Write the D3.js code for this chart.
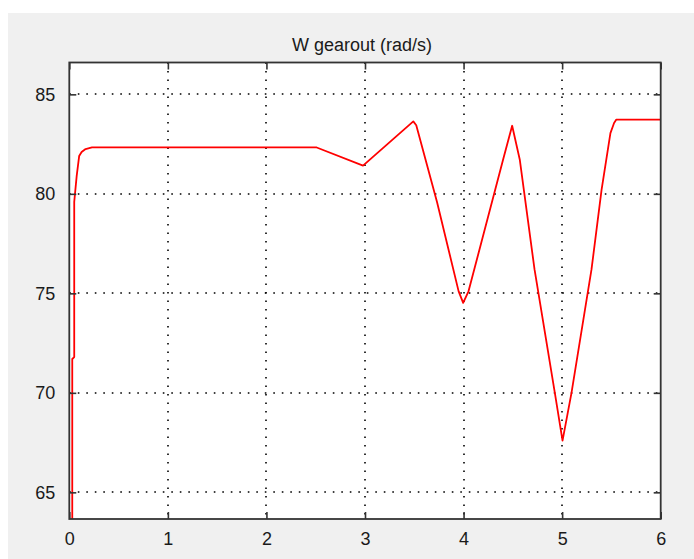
<!DOCTYPE html>
<html>
<head>
<meta charset="utf-8">
<script src="https://cdn.jsdelivr.net/npm/d3@7/dist/d3.min.js"></script>
<style>
  html, body { margin: 0; padding: 0; background: #ffffff; }
  svg { display: block; }
  text { font-family: "Liberation Sans", Arial, sans-serif; fill: #1a1a1a; }
</style>
</head>
<body>
<script>
// ---- data ----
const titleText = "W gearout (rad/s)";
const timeValues = [0.03, 0.03, 0.05, 0.05, 0.075, 0.10, 0.125, 0.165, 0.23, 2.51, 2.98, 3.49, 3.52, 3.73, 3.95, 3.996,
  4.05, 4.40, 4.493, 4.571, 4.72, 4.926, 5.004, 5.095, 5.298, 5.40, 5.49, 5.527, 5.55, 6.0];
const speedValues = [63.0, 71.7, 71.8, 79.6, 80.9, 81.9, 82.1, 82.25, 82.33, 82.33, 81.42, 83.64, 83.45, 79.6, 75.1, 74.52,
  75.1, 81.7, 83.42, 81.7, 76.2, 70.0, 67.6, 70.0, 76.2, 80.2, 83.05, 83.56, 83.73, 83.73];
const xTicks = [0, 1, 2, 3, 4, 5, 6];
const yTicks = [65, 70, 75, 80, 85];
const xDomain = [0, 6];
const yDomain = [63.66, 86.6];

// ---- layout ----
const W = 694, H = 559;
const plot = { left: 69.3, right: 660.7, top: 62.5, bottom: 519 };

const svg = d3.select("body").append("svg").attr("width", W).attr("height", H);

svg.append("rect").attr("x", 8).attr("y", 13).attr("width", W - 8).attr("height", H - 13).attr("fill", "#f0f0f0");

svg.append("rect")
  .attr("x", plot.left).attr("y", plot.top)
  .attr("width", plot.right - plot.left).attr("height", plot.bottom - plot.top)
  .attr("fill", "#ffffff");

const x = d3.scaleLinear().domain(xDomain).range([plot.left, plot.right]);
const y = d3.scaleLinear().domain(yDomain).range([plot.bottom, plot.top]);

// grid
const grid = svg.append("g").attr("stroke", "#000").attr("stroke-width", 1.6).attr("stroke-dasharray", "1.6,6.9");
grid.selectAll("line.gx").data(xTicks.filter(t => t > xDomain[0] && t < xDomain[1])).join("line")
  .attr("x1", d => Math.round(x(d))).attr("x2", d => Math.round(x(d)))
  .attr("y1", plot.top).attr("y2", plot.bottom);
grid.selectAll("line.gy").data(yTicks).join("line")
  .attr("y1", d => Math.round(y(d))).attr("y2", d => Math.round(y(d)))
  .attr("x1", plot.left).attr("x2", plot.right);

// clip
svg.append("clipPath").attr("id", "clip").append("rect")
  .attr("x", plot.left).attr("y", plot.top)
  .attr("width", plot.right - plot.left).attr("height", plot.bottom - plot.top);

const pts = timeValues.map((t, i) => [t, speedValues[i]]);
svg.append("path")
  .datum(pts)
  .attr("clip-path", "url(#clip)")
  .attr("fill", "none")
  .attr("stroke", "#ff0000")
  .attr("stroke-width", 1.8)
  .attr("stroke-linejoin", "round")
  .attr("d", d3.line().x(d => x(d[0])).y(d => y(d[1])));

// axes (ticks inside, on all four sides)
const tickLen = 7;
const axB = d3.axisBottom(x).tickValues(xTicks).tickSizeInner(-tickLen).tickSizeOuter(0).tickPadding(13).tickFormat(d3.format("d"));
const axT = d3.axisTop(x).tickValues(xTicks).tickSizeInner(-tickLen).tickSizeOuter(0).tickFormat("");
const axL = d3.axisLeft(y).tickValues(yTicks).tickSizeInner(-tickLen).tickSizeOuter(0).tickPadding(14).tickFormat(d3.format("d"));
const axR = d3.axisRight(y).tickValues(yTicks).tickSizeInner(-tickLen).tickSizeOuter(0).tickFormat("");

function style(g) {
  g.select(".domain").remove();
  g.selectAll(".tick line").attr("stroke", "#333").attr("stroke-width", 1.6);
  g.selectAll(".tick text").attr("font-size", 18).attr("fill", "#1a1a1a");
}
svg.append("g").attr("transform", `translate(0,${plot.bottom})`).call(axB).call(style);
svg.append("g").attr("transform", `translate(0,${plot.top})`).call(axT).call(style);
svg.append("g").attr("transform", `translate(${plot.left},0)`).call(axL).call(style);
svg.append("g").attr("transform", `translate(${plot.right},0)`).call(axR).call(style);

// frame
svg.append("rect")
  .attr("x", plot.left).attr("y", plot.top)
  .attr("width", plot.right - plot.left).attr("height", plot.bottom - plot.top)
  .attr("fill", "none").attr("stroke", "#333").attr("stroke-width", 1.8);

// title
svg.append("text")
  .attr("x", (plot.left + plot.right) / 2 - 3).attr("y", 51)
  .attr("text-anchor", "middle").attr("font-size", 18)
  .text(titleText);
</script>
</body>
</html>
